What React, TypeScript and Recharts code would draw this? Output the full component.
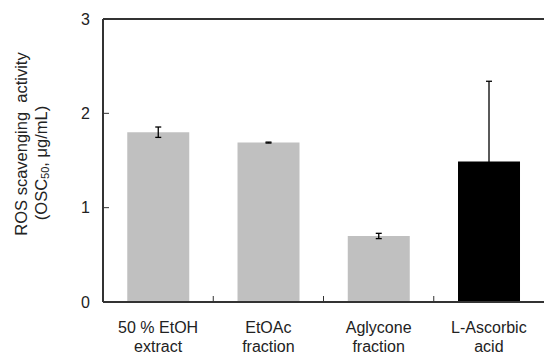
import React from "react";
import {
  BarChart,
  Bar,
  Cell,
  XAxis,
  YAxis,
  ErrorBar,
  ReferenceLine,
} from "recharts";

const categories = [
  ["50 % EtOH", "extract"],
  ["EtOAc", "fraction"],
  ["Aglycone", "fraction"],
  ["L-Ascorbic", "acid"],
];
const values = [1.8, 1.69, 0.7, 1.49];
const errors = [0.055, 0.005, 0.028, 0.85];
const barColors = ["#c0c0c0", "#c0c0c0", "#c0c0c0", "#000000"];
const yTicks = [0, 1, 2, 3];

const data = categories.map((c, i) => ({
  name: c.join(" "),
  value: values[i],
  err: errors[i],
}));

const FONT = "'Liberation Sans', Arial, sans-serif";
const AXIS = "#333";

const YTick = (props: any) => {
  const { x, y, payload } = props;
  return (
    <g>
      <line x1={x} y1={y} x2={x + 6} y2={y} stroke={AXIS} strokeWidth={1} />
      <text x={x - 13} y={y} dy="0.35em" textAnchor="end" fontSize={16} fill="#222" fontFamily={FONT}>
        {payload.value}
      </text>
    </g>
  );
};

const XTick = (props: any) => {
  const { x, y, payload, index } = props;
  const half = payload.offset || 55;
  const lines = categories[index] || [];
  return (
    <g>
      {index < categories.length - 1 && (
        <line x1={x + half} y1={y} x2={x + half} y2={y - 6} stroke={AXIS} strokeWidth={1} />
      )}
      <text textAnchor="middle" fontSize={16} fill="#222" fontFamily={FONT}>
        <tspan x={x} y={y + 31}>{lines[0]}</tspan>
        <tspan x={x} y={y + 50}>{lines[1]}</tspan>
      </text>
    </g>
  );
};

// two-line rotated axis title with subscript
const YLabel = () => (
  <g fontFamily={FONT} fontSize={16.5} fill="#222">
    <text x={21} y={144} transform="rotate(-90 21 144)" textAnchor="middle" dominantBaseline="central">
      {"ROS scavenging\u00a0\u00a0activity"}
    </text>
    <text x={41} y={163} transform="rotate(-90 41 163)" textAnchor="middle" dominantBaseline="central">
      (OSC
      <tspan fontSize={11} dy={4}>50</tspan>
      <tspan dy={-4}>{",\u00a0μg/mL)"}</tspan>
    </text>
  </g>
);

export default function App() {
  return (
    <div style={{ position: "absolute", left: 0, top: 0, background: "#fff" }}>
      <BarChart
        width={545}
        height={354}
        data={data}
        margin={{ top: 19, right: 1, left: 0, bottom: 0 }}
        barCategoryGap="22%"
      >
        <XAxis
          dataKey="name"
          height={52}
          tickSize={0}
          tickMargin={0}
          interval={0}
          axisLine={{ stroke: AXIS, strokeWidth: 2 }}
          tick={<XTick />}
        />
        <YAxis
          domain={[0, 3]}
          ticks={yTicks}
          width={103}
          tickSize={0}
          tickMargin={0}
          axisLine={{ stroke: AXIS, strokeWidth: 2 }}
          tick={<YTick />}
          label={<YLabel />}
        />
        <YAxis
          yAxisId="right"
          orientation="right"
          width={0}
          domain={[0, 3]}
          tick={false}
          tickLine={false}
          axisLine={{ stroke: AXIS, strokeWidth: 1.5 }}
        />
        <ReferenceLine y={3} stroke={AXIS} strokeWidth={2} />
        <Bar dataKey="value" isAnimationActive={false}>
          {data.map((d, i) => (
            <Cell key={d.name} fill={barColors[i]} />
          ))}
          <ErrorBar dataKey="err" width={3} stroke="#000" strokeWidth={1.3} />
        </Bar>
      </BarChart>
    </div>
  );
}
